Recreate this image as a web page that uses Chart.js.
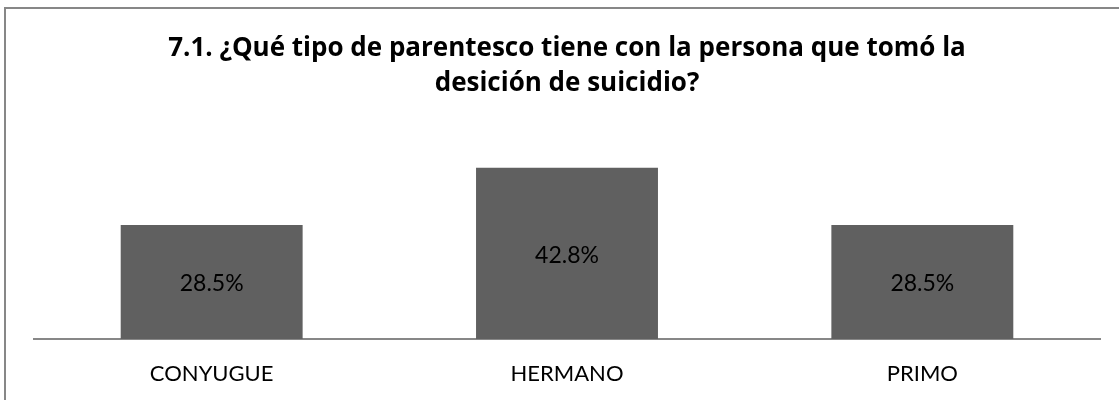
<!DOCTYPE html>
<html>
<head>
<meta charset="utf-8">
<script src="https://cdn.jsdelivr.net/npm/chart.js@4.4.0/dist/chart.umd.min.js"></script>
<style>
  body { margin: 0; background: #fff; }
  canvas { display: block; }
</style>
</head>
<body>
<canvas id="chart" width="1119" height="400"></canvas>
<script>
const titleLines = ['7.1. ¿Qué tipo de parentesco tiene con la persona que tomó la', 'desición de suicidio?'];
const categories = ['CONYUGUE', 'HERMANO', 'PRIMO'];
const percentages = [28.5, 42.8, 28.5];
const valueLabels = ['28.5%', '42.8%', '28.5%'];

const FONT = 'Lato, "Open Sans", sans-serif';
const TITLE_FONT = '"Open Sans", Lato, sans-serif';

// frame: only top and left edges are visible in the crop
const framePlugin = {
    id: 'frame',
    beforeDraw(chart) {
        const ctx = chart.ctx;
        ctx.save();
        ctx.fillStyle = '#fff';
        ctx.fillRect(0, 0, chart.width, chart.height);
        ctx.fillStyle = '#878787';
        ctx.fillRect(4, 7, chart.width - 4, 2);
        ctx.fillRect(4, 7, 2, chart.height - 7);
        ctx.restore();
    }
};

// value text in the middle of each bar
const barLabels = {
    id: 'barLabels',
    afterDatasetsDraw(chart) {
        const ctx = chart.ctx;
        const meta = chart.getDatasetMeta(0);
        ctx.save();
        ctx.font = '23px ' + FONT;
        ctx.fillStyle = '#000';
        ctx.textAlign = 'center';
        ctx.textBaseline = 'middle';
        meta.data.forEach((bar, i) => {
            ctx.fillText(valueLabels[i], bar.x, (bar.y + bar.base) / 2 + 2);
        });
        ctx.restore();
    }
};

new Chart(document.getElementById('chart'), {
    type: 'bar',
    data: {
        labels: categories,
        datasets: [{
            data: percentages,
            backgroundColor: '#606060',
            borderWidth: 0,
            barPercentage: 0.512,
            categoryPercentage: 1
        }]
    },
    options: {
        responsive: false,
        animation: false,
        layout: { padding: { left: 34, right: 19, top: 0, bottom: 0 } },
        plugins: {
            legend: { display: false },
            tooltip: { enabled: false },
            title: {
                display: true,
                text: titleLines,
                color: '#000',
                font: { family: TITLE_FONT, size: 26, weight: 'bold', lineHeight: 35 / 26 },
                padding: { top: 31, bottom: 40 }
            }
        },
        scales: {
            x: {
                grid: { display: false, drawTicks: false },
                border: { display: true, color: '#878787', width: 2 },
                ticks: { color: '#000', font: { family: FONT, size: 22 }, padding: 22 },
                afterFit(scale) { scale.height = 61; }
            },
            y: {
                display: false,
                min: 0,
                max: 49.5
            }
        }
    },
    plugins: [framePlugin, barLabels]
});
</script>
</body>
</html>
